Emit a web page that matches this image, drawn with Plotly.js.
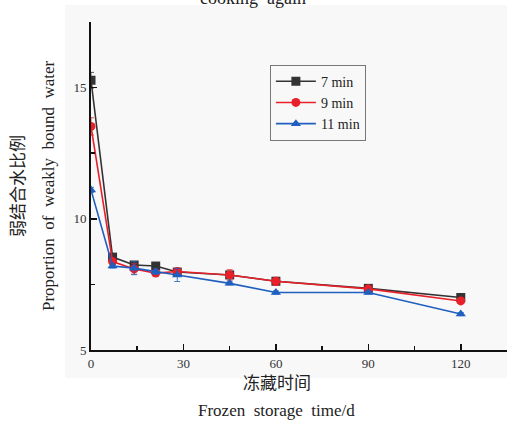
<!DOCTYPE html>
<html><head><meta charset="utf-8">
<script src="https://cdn.plot.ly/plotly-3.0.1.min.js"></script>
<style>html,body{margin:0;padding:0;background:#fff}#c{width:507px;height:423px}</style>
</head><body><div id="c"></div>
<script>
const days = [0, 7, 14, 21, 28, 45, 60, 90, 120];
const names = ["7 min", "9 min", "11 min"];
const v7  = [15.28, 8.54, 8.24, 8.20, 7.97, 7.86, 7.62, 7.35, 7.00];
const v9  = [13.52, 8.37, 8.09, 7.93, 7.99, 7.86, 7.62, 7.33, 6.87];
const v11 = [11.10, 8.20, 8.12, 7.98, 7.86, 7.54, 7.19, 7.19, 6.37];
const e7  = [0.30, 0.10, 0.12, 0.08, 0.10, 0.10, 0.12, 0.08, 0.06];
const e9  = [0.33, 0.10, 0.20, 0.10, 0.10, 0.20, 0.15, 0.08, 0.08];
const e11 = [0.10, 0.08, 0.25, 0.10, 0.25, 0.06, 0.06, 0.06, 0.06];
const xTicks = [0, 30, 60, 90, 120];
const yTicks = [5, 10, 15];

const colors = ["#333333", "#e8202a", "#1f5fbf"];
const symbols = ["square", "circle", "triangle-up"];
const series = [v7, v9, v11];
const errs = [e7, e9, e11];

const traces = series.map((v, i) => ({
  x: days, y: v, name: names[i], type: "scatter", mode: "lines+markers",
  line: {color: colors[i], width: 1.6},
  marker: {color: colors[i], symbol: symbols[i], size: 9},
  error_y: {type: "data", array: errs[i], visible: true, color: colors[i], thickness: 0.8, width: 3}
}));

const serif = "Liberation Serif, 'Noto Sans CJK SC', serif";
const layout = {
  width: 507, height: 423,
  margin: {l: 91, r: 0, t: 22, b: 73},
  paper_bgcolor: "#ffffff", plot_bgcolor: "rgba(0,0,0,0)",
  font: {family: serif, color: "#222", size: 13},
  showlegend: true,
  legend: {x: 0.43, y: 0.87, xanchor: "left", yanchor: "top", bordercolor: "#777", borderwidth: 1,
           bgcolor: "rgba(0,0,0,0)", font: {size: 14, family: serif, color: "#222"}, tracegroupgap: 0,
           itemwidth: 40},
  xaxis: {range: [0, 135], tickvals: xTicks, ticks: "inside", ticklen: 6, tickwidth: 1.5, tickcolor: "#111",
          showline: true, linecolor: "#111", linewidth: 2, showgrid: false, zeroline: false,
          minor: {tickvals: [15, 45, 75, 105], ticks: "inside", ticklen: 4, tickcolor: "#111", tickwidth: 1.5},
          tickfont: {size: 13, family: serif, color: "#333"}},
  yaxis: {range: [5, 17.5], tickvals: yTicks, ticks: "inside", ticklen: 6, tickwidth: 1.5, tickcolor: "#111",
          showline: true, linecolor: "#111", linewidth: 2, showgrid: false, zeroline: false,
          minor: {tickvals: [7.5, 12.5], ticks: "inside", ticklen: 4, tickcolor: "#111", tickwidth: 1.5},
          tickfont: {size: 13, family: serif, color: "#333"}},
  shapes: [{type: "rect", xref: "paper", yref: "paper", x0: -0.0625, x1: 1, y0: -0.0854, y1: 1.052,
            fillcolor: "#f8f8f8", line: {width: 0}, layer: "below"}],
  annotations: [
    {text: "cooking  again", xref: "paper", yref: "paper", x: 0.39, y: 1, yanchor: "middle", yshift: 24,
     showarrow: false, font: {size: 18, family: serif, color: "#222"}},
    {text: "弱结合水比例", xref: "paper", yref: "paper", x: 0, y: 0.5, xanchor: "center", yanchor: "middle",
     xshift: -73, textangle: -90, showarrow: false, font: {size: 17, family: serif, color: "#222"}},
    {text: "Proportion  of  weakly  bound  water", xref: "paper", yref: "paper", x: 0, y: 0.5, xanchor: "center",
     yanchor: "middle", xshift: -43, textangle: -90, showarrow: false, font: {size: 17, family: serif, color: "#222"}},
    {text: "冻藏时间", xref: "paper", yref: "paper", x: 0.447, y: 0, yanchor: "middle", yshift: -33,
     showarrow: false, font: {size: 17, family: serif, color: "#222"}},
    {text: "Frozen  storage  time/d", xref: "paper", yref: "paper", x: 0.447, y: 0, yanchor: "middle", yshift: -60,
     showarrow: false, font: {size: 17, family: serif, color: "#222"}}
  ]
};
Plotly.newPlot("c", traces, layout, {displayModeBar: false, staticPlot: true});
</script></body></html>
